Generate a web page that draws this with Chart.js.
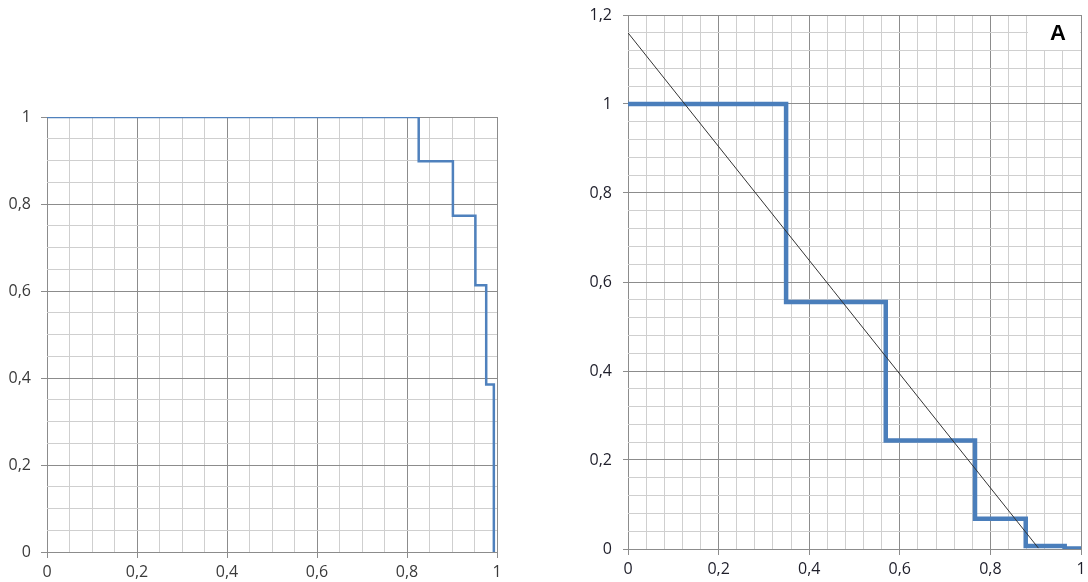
<!DOCTYPE html>
<html>
<head>
<meta charset="utf-8">
<script src="https://cdn.jsdelivr.net/npm/chart.js@4.4.1/dist/chart.umd.min.js"></script>
<style>
  html, body { margin: 0; padding: 0; background: #ffffff; }
  body { width: 1088px; height: 582px; position: relative; overflow: hidden; }
  canvas { position: absolute; top: 0; }
  #left { left: 0; }
  #right { left: 560px; }
</style>
</head>
<body>
<canvas id="left" width="520" height="582"></canvas>
<canvas id="right" width="528" height="582"></canvas>
<script>
// Left panel: descending step curve
const leftStepX = [0, 0.826, 0.902, 0.952, 0.976, 0.993];
const leftStepY = [1, 0.898, 0.773, 0.613, 0.385, 0];

// Right panel: coarse step curve and straight trend line
const rightStepX = [0, 0.349, 0.569, 0.766, 0.878, 0.964, 1.0];
const rightStepY = [1, 0.555, 0.244, 0.068, 0.007, 0.001, 0.001];
const trendX = [0, 0.906];
const trendY = [1.16, 0.002];

// Axis labels at every 0.2 (comma decimal separator)
const tickLabels = ['0', '0,2', '0,4', '0,6', '0,8', '1', '1,2'];

const MAJOR = 0.2;
const isMajor = v => Math.abs(v / MAJOR - Math.round(v / MAJOR)) < 1e-6;
const toPoints = (xs, ys) => xs.map((x, i) => ({ x: x, y: ys[i] }));

function axis(opts) {
  return {
    type: 'linear',
    position: opts.position,
    min: 0,
    max: opts.max,
    border: { display: false },
    grid: {
      drawTicks: true,
      tickLength: opts.tickLength,
      lineWidth: 1,
      color: c => isMajor(c.tick.value) ? '#8c8c8c' : '#cfcfcf',
      tickColor: c => isMajor(c.tick.value) ? '#8c8c8c' : 'rgba(0,0,0,0)'
    },
    ticks: {
      stepSize: opts.step,
      autoSkip: false,
      maxRotation: 0,
      minRotation: 0,
      padding: opts.padding,
      color: opts.color,
      font: { family: '"Open Sans", "Noto Sans", sans-serif', size: 16 },
      callback: v => isMajor(v) ? tickLabels[Math.round(v / MAJOR)] : ''
    },
    afterFit: s => {
      if (opts.position === 'left') s.width = opts.size; else s.height = opts.size;
      // the plot edges are set by the layout padding alone
      s.paddingTop = 0;
      s.paddingBottom = 0;
      s.paddingLeft = 0;
      s.paddingRight = 0;
    }
  };
}

// Left chart
new Chart(document.getElementById('left'), {
  type: 'scatter',
  data: {
    datasets: [{
      data: toPoints(leftStepX, leftStepY),
      showLine: true,
      stepped: 'before',
      borderColor: '#4f81bd',
      borderWidth: 2.5,
      pointRadius: 0,
      fill: false
    }]
  },
  options: {
    responsive: false,
    animation: false,
    devicePixelRatio: 1,
    layout: { padding: { top: 117, right: 23, bottom: 0, left: 0 } },
    plugins: { legend: { display: false }, tooltip: { enabled: false } },
    scales: {
      x: axis({ position: 'bottom', max: 1, step: 0.05, tickLength: 6, padding: 5, color: '#3a3a3a', size: 30 }),
      y: axis({ position: 'left', max: 1, step: 0.05, tickLength: 6, padding: 10, color: '#3a3a3a', size: 47 })
    }
  }
});

// Panel letter in a white box at the top-right corner of the plot
const panelLetter = {
  id: 'panelLetter',
  afterDatasetsDraw(chart) {
    const a = chart.chartArea;
    const ctx = chart.ctx;
    ctx.save();
    ctx.fillStyle = '#ffffff';
    ctx.fillRect(a.right - 53, a.top + 1, 52, 34);
    ctx.fillStyle = '#000000';
    ctx.font = 'bold 22px "Liberation Sans", Arial, sans-serif';
    ctx.textAlign = 'center';
    ctx.textBaseline = 'middle';
    ctx.fillText('A', a.right - 23, a.top + 19);
    ctx.restore();
  }
};

// Right chart
new Chart(document.getElementById('right'), {
  type: 'scatter',
  data: {
    datasets: [
      {
        data: toPoints(trendX, trendY),
        showLine: true,
        borderColor: '#333333',
        borderWidth: 1,
        pointRadius: 0,
        fill: false,
        order: 1
      },
      {
        data: toPoints(rightStepX, rightStepY),
        showLine: true,
        stepped: 'before',
        borderColor: '#4a7ebb',
        borderWidth: 4.5,
        pointRadius: 0,
        fill: false,
        order: 2
      }
    ]
  },
  options: {
    responsive: false,
    animation: false,
    devicePixelRatio: 1,
    layout: { padding: { top: 15, right: 7, bottom: 0, left: 0 } },
    plugins: { legend: { display: false }, tooltip: { enabled: false } },
    scales: {
      x: axis({ position: 'bottom', max: 1, step: 0.04, tickLength: 6, padding: 5, color: '#1e1e2a', size: 33 }),
      y: axis({ position: 'left', max: 1.2, step: 0.04, tickLength: 5, padding: 11, color: '#1e1e2a', size: 68 })
    }
  },
  plugins: [panelLetter]
});
</script>
</body>
</html>
